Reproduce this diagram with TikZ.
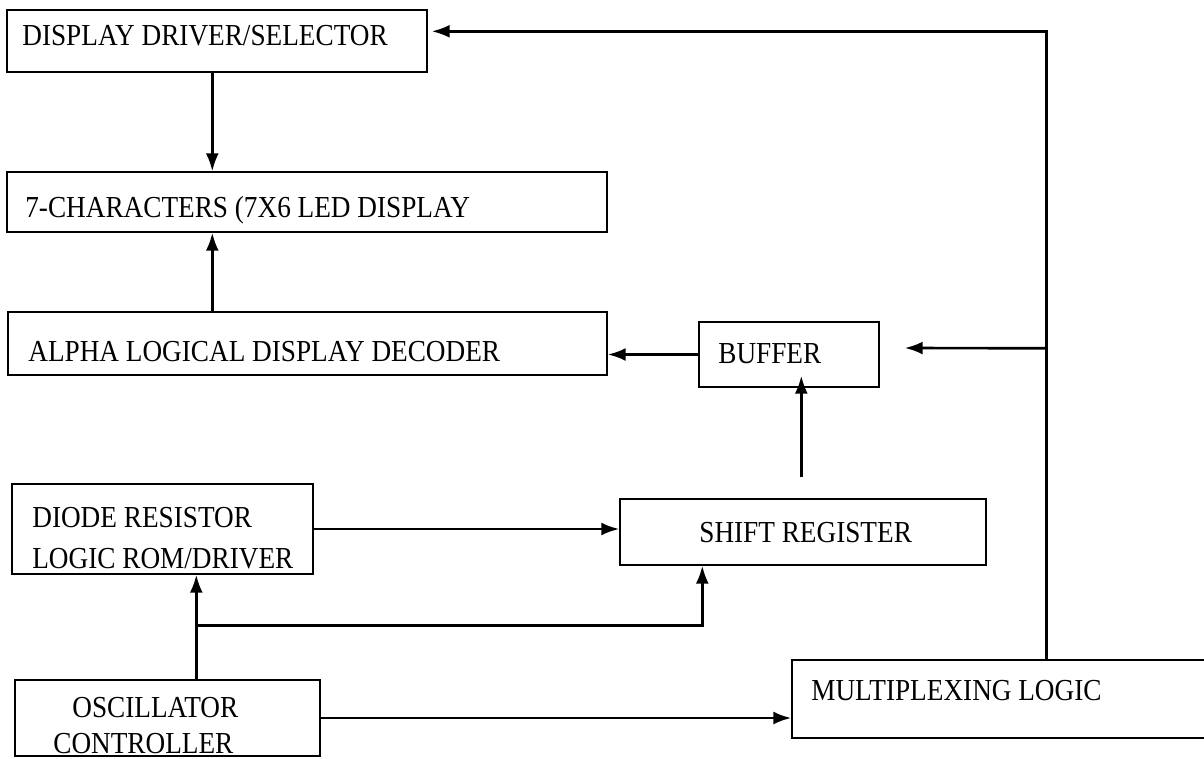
\documentclass[tikz,border=0pt]{standalone}
\usepackage{fontspec}
\setmainfont{Liberation Serif}
\usetikzlibrary{arrows.meta,calc}
\newcommand{\tallt}[1]{\scalebox{1}[1.12]{#1}}
\begin{document}
\begin{tikzpicture}[x=0.02cm,y=-0.02cm,
  blk/.style 2 args={draw=black,line width=0.8pt,inner sep=0pt,minimum width=#1*0.02cm,minimum height=#2*0.02cm},
  txt/.style={inner sep=0pt,anchor=base west,font=\fontsize{15.5}{18}\selectfont},
  conn/.style={line width=1.5pt},
  arr/.style={conn,-{Latex[length=0.36cm,width=0.26cm]}}]
\fill[white] (0,0) rectangle (1204,758);
\clip (0,0) rectangle (1204,758);
% blocks
\node[blk={420}{62}] (drv) at (217,41) {};
\node[blk={600}{60}] (led) at (307,202) {};
\node[blk={599}{63}] (alpha) at (307.5,343.5) {};
\node[blk={180}{65}] (buf) at (789,354.5) {};
\node[blk={301}{90}] (diode) at (162.5,529) {};
\node[blk={366}{66}] (shift) at (803,532) {};
\node[blk={305}{76}] (osc) at (167.5,718) {};
\node[blk={423}{78}] (mux) at (1003.5,699) {};
% texts
\node[txt] (drvT) at (22,45) {\tallt{DISPLAY DRIVER/SELECTOR}};
\node[txt] (ledT) at (25,217) {\tallt{7-CHARACTERS (7X6 LED DISPLAY}};
\node[txt] (alphaT) at (28,361) {\tallt{ALPHA LOGICAL DISPLAY DECODER}};
\node[txt] (bufT) at (718,363) {\tallt{BUFFER}};
\node[txt] (diodeT1) at (32,527) {\tallt{DIODE RESISTOR}};
\node[txt] (diodeT2) at (32,568) {\tallt{LOGIC ROM/DRIVER}};
\node[txt] (shiftT) at (699,542) {\tallt{SHIFT REGISTER}};
\node[txt] (oscT1) at (72,717) {\tallt{OSCILLATOR}};
\node[txt] (oscT2) at (53,753) {\tallt{CONTROLLER}};
\node[txt] (muxT) at (811,700) {\tallt{MULTIPLEXING LOGIC}};
% connectors
\draw[arr] ($(drv.south west)+(206,0)$) -- ($(led.north west)+(206,0)$);
\draw[arr] ($(alpha.north west)+(205,0)$) -- ($(led.south west)+(206,0)$);
\draw[arr] (buf.west) -- (buf.west -| alpha.east);
\draw[arr] ($(mux.north west)+(255,0)$) |- ($(drv.north east)+(4,22)$);
\coordinate (j) at ($(mux.north west)+(255,-311)$);
\draw[arr] (j) -- ($(buf.east)+(25,-6.5)$);
\draw[arr] ($(shift.north west)+(182,-21)$) -- ($(buf.south west)+(103,-12)$);
\draw[arr] (diode.east) -- (diode.east -| shift.west);
\draw[arr] ($(osc.north west)+(182,0)$) -- ($(diode.south west)+(185,0)$);
\coordinate (b) at ($(osc.north west)+(182,-54)$);
\draw[arr] (b) -| ($(shift.south west)+(83,0)$);
\draw[arr] (osc.east) -- (osc.east -| mux.west);
\end{tikzpicture}
\end{document}
